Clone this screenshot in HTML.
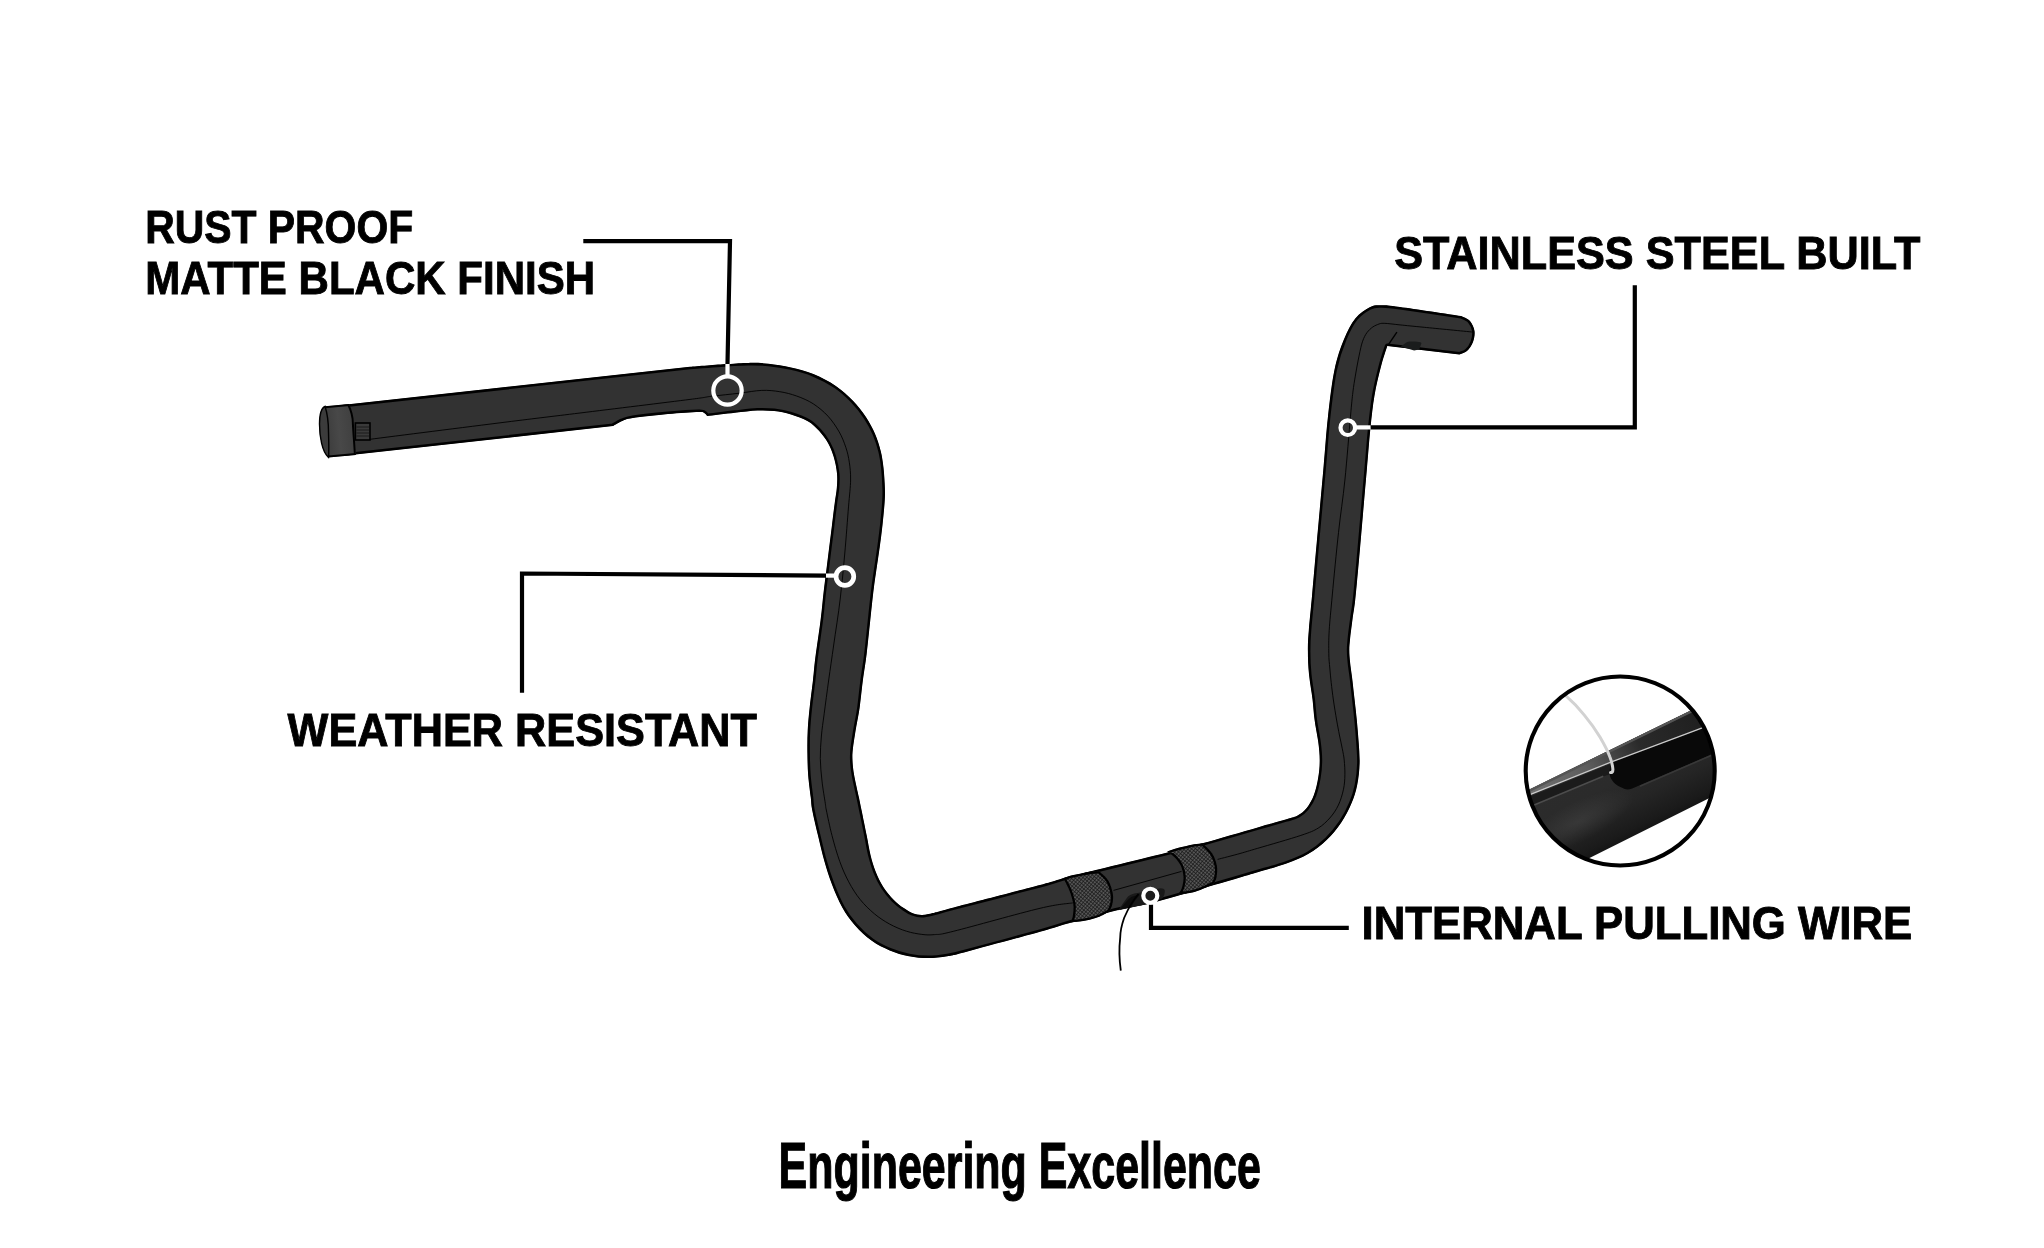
<!DOCTYPE html>
<html><head><meta charset="utf-8"><title>Engineering Excellence</title>
<style>
html,body{margin:0;padding:0;background:#fff;}
svg{display:block}
text{font-family:"Liberation Sans",sans-serif;font-weight:bold;fill:#000}
</style></head>
<body>
<svg width="2044" height="1248" viewBox="0 0 2044 1248">
<defs>
<pattern id="kn" width="2.7" height="2.7" patternUnits="userSpaceOnUse" patternTransform="rotate(40)">
<rect width="2.7" height="2.7" fill="#565656"/><path d="M0 0H2.7M0 0V2.7" stroke="#171717" stroke-width="1.35"/>
</pattern>
<clipPath id="barclip"><path d="M342.0 405.1 L690.0 366.8 L690.0 366.8 C696.2 366.3 717.3 364.6 727.0 364.0 C736.7 363.4 741.4 362.9 748.3 362.9 C755.2 362.8 761.4 362.9 768.5 363.7 C775.6 364.4 783.5 365.7 791.0 367.4 C798.5 369.1 805.9 371.0 813.4 374.1 C820.9 377.2 829.2 381.5 835.8 385.9 C842.3 390.3 847.7 395.3 852.7 400.5 C857.8 405.7 862.4 411.7 866.1 417.3 C869.8 422.9 872.7 428.5 875.1 434.1 C877.5 439.7 879.3 445.4 880.7 451.0 C882.1 456.6 882.8 461.6 883.5 467.8 C884.2 474.0 884.7 482.6 884.9 488.4 C885.1 494.2 885.0 496.3 884.6 502.4 C884.2 508.5 883.3 517.4 882.5 524.9 C881.7 532.4 880.7 539.8 879.7 547.3 C878.7 554.8 877.5 562.3 876.4 569.8 C875.3 577.3 874.3 583.8 873.3 592.2 C872.3 600.6 871.4 609.6 870.3 620.0 C869.2 630.4 867.8 644.3 866.6 654.3 C865.4 664.3 864.1 671.0 862.9 680.0 C861.7 689.0 860.8 699.6 859.6 708.0 C858.4 716.4 856.7 723.6 855.6 730.5 C854.5 737.4 853.3 744.6 852.8 749.6 C852.3 754.6 852.3 756.5 852.5 760.8 C852.7 765.1 853.1 769.2 854.2 775.4 C855.3 781.6 857.8 792.0 859.0 797.8 C860.2 803.6 860.2 803.7 861.5 810.0 C862.8 816.3 865.2 828.1 866.7 835.6 C868.2 843.1 869.0 848.9 870.5 854.9 C872.0 860.9 873.5 866.2 875.6 871.5 C877.7 876.8 880.3 882.2 883.3 886.9 C886.3 891.6 890.2 896.2 893.6 899.7 C897.0 903.2 900.6 905.9 903.8 908.1 C907.0 910.4 909.8 912.1 912.8 913.2 C915.8 914.3 918.6 914.9 921.8 914.9 C925.0 914.9 926.7 914.5 932.0 913.2 C937.3 912.0 935.8 912.1 953.8 907.4 C971.8 902.7 1021.7 889.9 1040.0 885.0 C1058.3 880.1 1059.5 879.2 1063.4 878.0 L1063.4 878.0 C1080.4 873.8 1142.3 858.8 1165.4 853.0 C1188.5 847.2 1186.8 847.6 1202.2 843.3 C1217.6 839.0 1243.7 831.4 1257.7 827.4 C1271.8 823.4 1279.8 821.2 1286.5 819.2 C1293.2 817.2 1294.6 817.1 1298.0 815.2 C1301.4 813.3 1304.0 811.4 1306.7 808.0 C1309.4 804.6 1312.0 800.0 1313.9 795.0 C1315.8 790.0 1317.2 783.5 1318.2 777.7 C1319.2 771.9 1319.7 766.4 1319.7 760.4 C1319.7 754.4 1319.1 748.3 1318.2 741.6 C1317.3 734.9 1315.5 727.1 1314.6 720.0 C1313.6 712.9 1313.4 706.8 1312.5 699.2 C1311.6 691.6 1309.8 682.2 1309.0 674.2 C1308.2 666.2 1307.9 658.6 1307.9 651.3 C1307.9 644.0 1308.0 639.8 1308.8 630.4 C1309.5 621.0 1310.8 609.6 1312.1 595.0 C1313.4 580.4 1314.8 563.7 1316.7 542.9 C1318.6 522.1 1321.4 491.1 1323.3 470.0 C1325.2 448.9 1326.1 432.9 1328.0 416.2 C1329.9 399.5 1331.8 382.5 1334.5 369.7 C1337.2 356.9 1340.5 347.8 1344.0 339.3 C1347.5 330.8 1351.0 323.9 1355.3 318.5 C1359.6 313.1 1365.4 309.4 1369.7 307.2 C1374.0 305.0 1376.0 305.3 1381.0 305.3 C1386.0 305.3 1386.7 305.2 1400.0 307.0 C1413.3 308.8 1450.8 314.5 1461.0 316.0 L1461.0 316.0 C1462.5 316.8 1467.8 318.5 1470.0 321.0 C1472.2 323.5 1474.0 327.5 1474.5 331.0 C1475.0 334.5 1474.2 338.7 1473.0 342.0 C1471.8 345.3 1469.3 348.9 1467.0 351.0 C1464.7 353.1 1460.7 353.9 1459.4 354.5 L1459.4 354.5 L1387.3 346.0 L1387.3 346.0 C1386.2 349.4 1383.1 358.3 1381.0 366.5 C1378.9 374.7 1376.2 385.2 1374.5 395.4 C1372.8 405.5 1371.8 415.0 1370.5 427.4 C1369.2 439.8 1368.1 455.4 1366.8 470.0 C1365.5 484.6 1364.2 499.9 1362.9 514.9 C1361.6 529.9 1360.3 545.6 1359.0 559.8 C1357.7 574.0 1356.3 590.1 1355.2 600.0 C1354.1 609.9 1353.3 612.8 1352.5 619.2 C1351.7 625.6 1350.6 633.4 1350.1 638.5 C1349.6 643.6 1349.3 646.0 1349.3 650.0 C1349.3 654.0 1349.6 658.0 1350.1 662.5 C1350.5 667.0 1351.3 671.3 1352.0 676.9 C1352.7 682.5 1353.4 689.0 1354.2 696.2 C1355.0 703.4 1356.1 712.4 1356.8 720.0 C1357.5 727.6 1358.1 734.4 1358.6 741.6 C1359.1 748.8 1359.8 756.1 1359.6 763.3 C1359.4 770.5 1358.6 778.2 1357.2 784.9 C1355.8 791.6 1354.1 797.4 1351.4 803.6 C1348.8 809.9 1345.4 816.4 1341.3 822.4 C1337.2 828.4 1332.4 834.4 1326.9 839.7 C1321.4 845.0 1314.8 850.1 1308.1 854.1 C1301.4 858.1 1294.9 860.5 1286.5 863.5 C1278.1 866.5 1265.5 869.9 1257.7 872.2 C1250.0 874.5 1247.3 875.3 1240.0 877.4 C1232.7 879.5 1224.5 881.9 1214.0 885.0 C1203.5 888.1 1188.1 892.9 1177.0 896.0 C1165.9 899.1 1157.4 901.6 1147.6 903.9 C1137.8 906.2 1131.0 906.8 1118.3 909.9 C1105.6 913.0 1084.3 918.9 1071.3 922.5 C1058.2 926.1 1057.4 926.9 1040.0 931.8 C1022.6 936.7 982.1 947.6 966.7 951.7 C951.3 955.8 953.8 955.1 947.4 956.2 C941.0 957.3 934.6 958.1 928.2 958.1 C921.8 958.1 915.4 957.5 909.0 956.2 C902.6 954.9 895.9 953.0 889.7 950.4 C883.5 947.8 877.6 945.0 871.8 940.8 C866.0 936.6 860.0 931.0 855.1 925.4 C850.2 919.8 846.1 914.2 842.3 907.4 C838.4 900.6 835.0 892.1 832.0 884.4 C829.0 876.7 826.7 869.4 824.4 861.3 C822.1 853.2 820.0 844.1 818.0 835.6 C816.0 827.1 813.4 816.3 812.2 810.0 C811.0 803.7 811.5 803.6 810.8 797.8 C810.1 792.0 808.8 782.9 808.2 775.4 C807.6 767.9 807.5 760.4 807.4 752.9 C807.3 745.4 807.3 738.0 807.7 730.5 C808.1 723.0 808.7 716.4 809.6 708.0 C810.5 699.6 812.0 688.3 813.0 680.0 C814.0 671.7 814.0 668.0 815.3 658.0 C816.6 648.0 819.2 631.0 820.6 620.0 C822.0 609.0 822.6 600.6 823.6 592.2 C824.6 583.8 825.5 577.3 826.4 569.8 C827.3 562.3 828.3 554.8 829.2 547.3 C830.1 539.8 831.1 532.4 832.0 524.9 C832.9 517.4 834.0 508.5 834.8 502.4 C835.6 496.2 836.4 492.8 836.8 488.0 C837.2 483.2 837.5 478.6 837.0 473.4 C836.5 468.2 835.1 461.7 833.6 456.6 C832.1 451.6 830.4 447.4 828.0 443.1 C825.6 438.8 822.4 434.5 819.0 430.8 C815.6 427.1 812.5 423.9 807.8 421.2 C803.1 418.5 796.6 416.2 791.0 414.5 C785.4 412.8 779.7 411.8 774.1 411.1 C768.5 410.5 763.8 410.3 757.3 410.6 C750.8 410.9 743.2 411.9 734.9 412.8 C726.5 413.7 711.8 415.6 707.2 416.1 L707.2 416.1 C706.7 415.6 705.6 413.7 704.2 413.0 C702.8 412.3 704.9 411.8 698.9 411.9 C692.9 412.0 679.0 412.9 668.0 413.9 C657.0 414.9 640.4 416.7 632.8 417.9 C625.2 419.1 625.6 419.5 622.3 420.9 C619.0 422.2 614.5 425.1 613.0 426.0 L613.0 426.0 L344.0 455.8 Z"/></clipPath>
<clipPath id="k1clip"><path d="M1063.3 878.3 C1064.6 877.8 1068.0 876.4 1071.0 875.6 C1074.0 874.8 1077.9 874.1 1081.2 873.4 C1084.5 872.7 1087.9 872.0 1090.9 871.6 C1093.9 871.2 1098.0 871.3 1099.4 871.3 L1099.4 871.3 C1100.9 872.9 1106.3 877.2 1108.5 880.9 C1110.7 884.6 1112.1 889.8 1112.8 893.6 C1113.5 897.5 1113.0 901.0 1112.4 904.0 C1111.8 907.0 1109.8 910.3 1109.3 911.6 L1109.3 911.6 C1107.8 912.4 1103.3 915.1 1100.0 916.5 C1096.7 917.9 1093.0 918.9 1089.7 919.8 C1086.4 920.6 1083.2 921.2 1080.0 921.6 C1076.8 922.0 1072.3 922.3 1070.8 922.4 L1070.8 922.4 C1071.1 921.4 1072.4 919.0 1072.8 916.1 C1073.2 913.2 1073.8 908.6 1073.4 904.9 C1073.0 901.2 1071.6 896.9 1070.6 893.7 C1069.6 890.6 1068.5 888.6 1067.3 886.0 C1066.1 883.4 1064.0 879.6 1063.3 878.3 Z"/></clipPath>
<clipPath id="k2clip"><path d="M1167.2 851.4 C1168.5 850.9 1172.2 849.5 1175.0 848.7 C1177.8 847.9 1180.8 847.3 1184.0 846.6 C1187.2 845.9 1190.9 844.9 1194.0 844.3 C1197.1 843.7 1201.1 843.4 1202.5 843.2 L1202.5 843.2 C1204.1 844.9 1209.7 849.6 1212.1 853.3 C1214.5 857.0 1216.1 861.7 1216.8 865.6 C1217.6 869.6 1217.1 873.9 1216.6 876.9 C1216.1 879.9 1214.3 882.6 1213.8 883.8 L1213.8 883.8 C1211.7 884.8 1204.9 888.2 1200.9 889.8 C1196.9 891.3 1193.5 892.3 1189.7 893.1 C1185.8 893.9 1179.9 894.5 1177.9 894.8 L1177.9 894.8 C1178.6 893.7 1180.9 891.1 1181.8 888.1 C1182.7 885.1 1183.7 880.6 1183.5 876.9 C1183.3 873.2 1182.2 868.9 1180.7 865.6 C1179.2 862.4 1176.8 859.6 1174.5 857.2 C1172.2 854.8 1168.4 852.3 1167.2 851.4 Z"/></clipPath>
<clipPath id="capclip"><path d="M325 406.3 L349 404.1 C352 410 354 417 353.9 424.1 C354.5 435 355.5 446 355.9 455 L328.5 457.4 C322 452 319.5 436 319.5 424.1 C319.5 415 321 408 325 406.3 Z"/></clipPath>
<clipPath id="insetclip"><circle cx="1620.2" cy="771" r="94.5"/></clipPath>
<linearGradient id="bodyg" gradientUnits="userSpaceOnUse" x1="1600" y1="750" x2="1645" y2="840">
<stop offset="0" stop-color="#2c2c2c"/><stop offset="0.35" stop-color="#2b2b2b"/><stop offset="0.6" stop-color="#252525"/><stop offset="0.85" stop-color="#1a1a1a"/><stop offset="1" stop-color="#0e0e0e"/>
</linearGradient>
<linearGradient id="bandg" gradientUnits="userSpaceOnUse" x1="1530" y1="792" x2="1715" y2="702">
<stop offset="0" stop-color="#707070"/><stop offset="0.3" stop-color="#5e5e5e"/><stop offset="0.46" stop-color="#404040"/><stop offset="0.58" stop-color="#2a2a2a"/><stop offset="1" stop-color="#1c1c1c"/>
</linearGradient>
<linearGradient id="capg" gradientUnits="userSpaceOnUse" x1="325" y1="430" x2="356" y2="427"><stop offset="0" stop-color="#3c3c3c"/><stop offset="0.45" stop-color="#484848"/><stop offset="1" stop-color="#3e3e3e"/></linearGradient>
<radialGradient id="sheen"><stop offset="0" stop-color="#fff" stop-opacity="0.08"/><stop offset="1" stop-color="#fff" stop-opacity="0"/></radialGradient>
</defs>
<rect width="2044" height="1248" fill="#fff"/>
<!--BAR-->
<path d="M342.0 405.1 L690.0 366.8 L690.0 366.8 C696.2 366.3 717.3 364.6 727.0 364.0 C736.7 363.4 741.4 362.9 748.3 362.9 C755.2 362.8 761.4 362.9 768.5 363.7 C775.6 364.4 783.5 365.7 791.0 367.4 C798.5 369.1 805.9 371.0 813.4 374.1 C820.9 377.2 829.2 381.5 835.8 385.9 C842.3 390.3 847.7 395.3 852.7 400.5 C857.8 405.7 862.4 411.7 866.1 417.3 C869.8 422.9 872.7 428.5 875.1 434.1 C877.5 439.7 879.3 445.4 880.7 451.0 C882.1 456.6 882.8 461.6 883.5 467.8 C884.2 474.0 884.7 482.6 884.9 488.4 C885.1 494.2 885.0 496.3 884.6 502.4 C884.2 508.5 883.3 517.4 882.5 524.9 C881.7 532.4 880.7 539.8 879.7 547.3 C878.7 554.8 877.5 562.3 876.4 569.8 C875.3 577.3 874.3 583.8 873.3 592.2 C872.3 600.6 871.4 609.6 870.3 620.0 C869.2 630.4 867.8 644.3 866.6 654.3 C865.4 664.3 864.1 671.0 862.9 680.0 C861.7 689.0 860.8 699.6 859.6 708.0 C858.4 716.4 856.7 723.6 855.6 730.5 C854.5 737.4 853.3 744.6 852.8 749.6 C852.3 754.6 852.3 756.5 852.5 760.8 C852.7 765.1 853.1 769.2 854.2 775.4 C855.3 781.6 857.8 792.0 859.0 797.8 C860.2 803.6 860.2 803.7 861.5 810.0 C862.8 816.3 865.2 828.1 866.7 835.6 C868.2 843.1 869.0 848.9 870.5 854.9 C872.0 860.9 873.5 866.2 875.6 871.5 C877.7 876.8 880.3 882.2 883.3 886.9 C886.3 891.6 890.2 896.2 893.6 899.7 C897.0 903.2 900.6 905.9 903.8 908.1 C907.0 910.4 909.8 912.1 912.8 913.2 C915.8 914.3 918.6 914.9 921.8 914.9 C925.0 914.9 926.7 914.5 932.0 913.2 C937.3 912.0 935.8 912.1 953.8 907.4 C971.8 902.7 1021.7 889.9 1040.0 885.0 C1058.3 880.1 1059.5 879.2 1063.4 878.0 L1063.4 878.0 C1080.4 873.8 1142.3 858.8 1165.4 853.0 C1188.5 847.2 1186.8 847.6 1202.2 843.3 C1217.6 839.0 1243.7 831.4 1257.7 827.4 C1271.8 823.4 1279.8 821.2 1286.5 819.2 C1293.2 817.2 1294.6 817.1 1298.0 815.2 C1301.4 813.3 1304.0 811.4 1306.7 808.0 C1309.4 804.6 1312.0 800.0 1313.9 795.0 C1315.8 790.0 1317.2 783.5 1318.2 777.7 C1319.2 771.9 1319.7 766.4 1319.7 760.4 C1319.7 754.4 1319.1 748.3 1318.2 741.6 C1317.3 734.9 1315.5 727.1 1314.6 720.0 C1313.6 712.9 1313.4 706.8 1312.5 699.2 C1311.6 691.6 1309.8 682.2 1309.0 674.2 C1308.2 666.2 1307.9 658.6 1307.9 651.3 C1307.9 644.0 1308.0 639.8 1308.8 630.4 C1309.5 621.0 1310.8 609.6 1312.1 595.0 C1313.4 580.4 1314.8 563.7 1316.7 542.9 C1318.6 522.1 1321.4 491.1 1323.3 470.0 C1325.2 448.9 1326.1 432.9 1328.0 416.2 C1329.9 399.5 1331.8 382.5 1334.5 369.7 C1337.2 356.9 1340.5 347.8 1344.0 339.3 C1347.5 330.8 1351.0 323.9 1355.3 318.5 C1359.6 313.1 1365.4 309.4 1369.7 307.2 C1374.0 305.0 1376.0 305.3 1381.0 305.3 C1386.0 305.3 1386.7 305.2 1400.0 307.0 C1413.3 308.8 1450.8 314.5 1461.0 316.0 L1461.0 316.0 C1462.5 316.8 1467.8 318.5 1470.0 321.0 C1472.2 323.5 1474.0 327.5 1474.5 331.0 C1475.0 334.5 1474.2 338.7 1473.0 342.0 C1471.8 345.3 1469.3 348.9 1467.0 351.0 C1464.7 353.1 1460.7 353.9 1459.4 354.5 L1459.4 354.5 L1387.3 346.0 L1387.3 346.0 C1386.2 349.4 1383.1 358.3 1381.0 366.5 C1378.9 374.7 1376.2 385.2 1374.5 395.4 C1372.8 405.5 1371.8 415.0 1370.5 427.4 C1369.2 439.8 1368.1 455.4 1366.8 470.0 C1365.5 484.6 1364.2 499.9 1362.9 514.9 C1361.6 529.9 1360.3 545.6 1359.0 559.8 C1357.7 574.0 1356.3 590.1 1355.2 600.0 C1354.1 609.9 1353.3 612.8 1352.5 619.2 C1351.7 625.6 1350.6 633.4 1350.1 638.5 C1349.6 643.6 1349.3 646.0 1349.3 650.0 C1349.3 654.0 1349.6 658.0 1350.1 662.5 C1350.5 667.0 1351.3 671.3 1352.0 676.9 C1352.7 682.5 1353.4 689.0 1354.2 696.2 C1355.0 703.4 1356.1 712.4 1356.8 720.0 C1357.5 727.6 1358.1 734.4 1358.6 741.6 C1359.1 748.8 1359.8 756.1 1359.6 763.3 C1359.4 770.5 1358.6 778.2 1357.2 784.9 C1355.8 791.6 1354.1 797.4 1351.4 803.6 C1348.8 809.9 1345.4 816.4 1341.3 822.4 C1337.2 828.4 1332.4 834.4 1326.9 839.7 C1321.4 845.0 1314.8 850.1 1308.1 854.1 C1301.4 858.1 1294.9 860.5 1286.5 863.5 C1278.1 866.5 1265.5 869.9 1257.7 872.2 C1250.0 874.5 1247.3 875.3 1240.0 877.4 C1232.7 879.5 1224.5 881.9 1214.0 885.0 C1203.5 888.1 1188.1 892.9 1177.0 896.0 C1165.9 899.1 1157.4 901.6 1147.6 903.9 C1137.8 906.2 1131.0 906.8 1118.3 909.9 C1105.6 913.0 1084.3 918.9 1071.3 922.5 C1058.2 926.1 1057.4 926.9 1040.0 931.8 C1022.6 936.7 982.1 947.6 966.7 951.7 C951.3 955.8 953.8 955.1 947.4 956.2 C941.0 957.3 934.6 958.1 928.2 958.1 C921.8 958.1 915.4 957.5 909.0 956.2 C902.6 954.9 895.9 953.0 889.7 950.4 C883.5 947.8 877.6 945.0 871.8 940.8 C866.0 936.6 860.0 931.0 855.1 925.4 C850.2 919.8 846.1 914.2 842.3 907.4 C838.4 900.6 835.0 892.1 832.0 884.4 C829.0 876.7 826.7 869.4 824.4 861.3 C822.1 853.2 820.0 844.1 818.0 835.6 C816.0 827.1 813.4 816.3 812.2 810.0 C811.0 803.7 811.5 803.6 810.8 797.8 C810.1 792.0 808.8 782.9 808.2 775.4 C807.6 767.9 807.5 760.4 807.4 752.9 C807.3 745.4 807.3 738.0 807.7 730.5 C808.1 723.0 808.7 716.4 809.6 708.0 C810.5 699.6 812.0 688.3 813.0 680.0 C814.0 671.7 814.0 668.0 815.3 658.0 C816.6 648.0 819.2 631.0 820.6 620.0 C822.0 609.0 822.6 600.6 823.6 592.2 C824.6 583.8 825.5 577.3 826.4 569.8 C827.3 562.3 828.3 554.8 829.2 547.3 C830.1 539.8 831.1 532.4 832.0 524.9 C832.9 517.4 834.0 508.5 834.8 502.4 C835.6 496.2 836.4 492.8 836.8 488.0 C837.2 483.2 837.5 478.6 837.0 473.4 C836.5 468.2 835.1 461.7 833.6 456.6 C832.1 451.6 830.4 447.4 828.0 443.1 C825.6 438.8 822.4 434.5 819.0 430.8 C815.6 427.1 812.5 423.9 807.8 421.2 C803.1 418.5 796.6 416.2 791.0 414.5 C785.4 412.8 779.7 411.8 774.1 411.1 C768.5 410.5 763.8 410.3 757.3 410.6 C750.8 410.9 743.2 411.9 734.9 412.8 C726.5 413.7 711.8 415.6 707.2 416.1 L707.2 416.1 C706.7 415.6 705.6 413.7 704.2 413.0 C702.8 412.3 704.9 411.8 698.9 411.9 C692.9 412.0 679.0 412.9 668.0 413.9 C657.0 414.9 640.4 416.7 632.8 417.9 C625.2 419.1 625.6 419.5 622.3 420.9 C619.0 422.2 614.5 425.1 613.0 426.0 L613.0 426.0 L344.0 455.8 Z" fill="#323232" stroke="#000" stroke-width="5" stroke-linejoin="round" clip-path="url(#barclip)"/>
<path d="M370.0 439.3 C392.5 436.4 470.0 426.6 505.0 422.2 C540.0 417.8 549.2 416.8 580.0 413.0 C610.8 409.2 668.1 402.2 690.0 399.4 C711.9 396.6 703.1 397.3 711.3 396.3 C719.5 395.3 731.0 394.2 739.4 393.2 C747.8 392.2 755.1 390.6 761.8 390.4 C768.5 390.1 774.0 390.8 779.8 391.7 C785.6 392.6 791.0 394.0 796.6 396.0 C802.2 398.0 808.2 400.5 813.4 403.9 C818.6 407.3 823.7 411.5 828.0 416.2 C832.3 420.9 836.2 426.7 839.2 431.9 C842.2 437.1 844.2 442.6 845.9 447.6 C847.6 452.7 848.5 456.8 849.3 462.2 C850.1 467.6 850.7 472.6 850.6 480.0 C850.5 487.4 849.5 494.7 848.5 506.9 C847.5 519.1 846.2 537.6 844.8 553.0 C843.4 568.4 842.1 583.7 840.2 599.0 C838.4 614.3 835.6 631.5 833.7 645.0 C831.8 658.5 830.3 668.5 828.7 680.0 C827.1 691.5 825.4 704.4 824.2 713.7 C823.0 723.0 822.0 728.5 821.4 736.0 C820.8 743.5 820.2 751.0 820.3 758.5 C820.4 766.0 821.2 773.5 822.0 781.0 C822.8 788.5 824.6 798.6 825.3 803.4 C826.0 808.2 825.2 804.6 826.3 810.0 C827.4 815.4 829.8 827.1 832.0 835.6 C834.2 844.1 836.9 853.6 839.7 861.3 C842.5 869.0 845.3 875.4 848.7 881.8 C852.1 888.2 856.0 894.4 860.3 899.7 C864.6 905.0 869.5 909.7 874.4 913.8 C879.3 917.9 884.4 921.2 889.7 924.1 C895.0 927.0 901.0 929.5 906.4 931.2 C911.8 932.9 917.1 933.8 921.8 934.4 C926.5 935.0 929.3 935.1 934.6 934.6 C939.9 934.1 936.2 935.6 953.8 931.2 C971.4 926.8 1020.2 913.0 1040.0 908.3 C1059.8 903.6 1067.3 903.8 1072.8 902.9 M1113.5 890.4 L1181.5 871.4 M1217.6 859.4 C1221.3 858.4 1233.3 855.4 1240.0 853.5 C1246.7 851.6 1247.5 851.3 1257.7 848.3 C1267.9 845.3 1290.8 838.8 1300.9 835.4 C1311.0 832.0 1313.4 831.0 1318.2 828.1 C1323.0 825.2 1326.4 821.8 1329.8 818.0 C1333.2 814.2 1336.1 809.9 1338.4 805.1 C1340.7 800.3 1342.4 794.2 1343.5 789.2 C1344.6 784.2 1344.8 779.7 1344.9 774.8 C1345.0 769.9 1344.6 764.3 1344.2 760.0 C1343.8 755.7 1343.1 753.0 1342.3 748.8 C1341.5 744.6 1340.4 739.8 1339.4 735.0 C1338.5 730.2 1337.6 725.8 1336.6 720.0 C1335.6 714.2 1334.3 706.2 1333.4 700.0 C1332.5 693.8 1331.8 687.8 1331.2 682.5 C1330.6 677.2 1330.2 672.9 1329.8 668.0 C1329.4 663.1 1328.8 659.6 1328.8 653.3 C1328.7 647.0 1328.6 640.1 1329.2 630.4 C1329.8 620.7 1330.8 611.3 1332.3 595.0 C1333.8 578.7 1336.4 551.7 1338.5 532.5 C1340.6 513.3 1342.9 499.4 1344.9 480.0 C1346.9 460.6 1349.2 430.8 1350.5 416.2 C1351.8 401.6 1352.1 398.8 1352.9 392.1 C1353.7 385.4 1354.4 381.4 1355.3 376.1 C1356.2 370.8 1357.1 365.4 1358.2 360.1 C1359.3 354.8 1360.5 348.4 1361.7 344.1 C1363.0 339.8 1364.1 337.2 1365.7 334.5 C1367.3 331.8 1369.3 329.8 1371.3 328.1 C1373.3 326.4 1375.6 325.3 1377.7 324.5 C1379.8 323.7 1380.4 323.2 1384.1 323.3 C1387.8 323.4 1393.3 324.2 1400.0 324.9 C1406.7 325.6 1412.0 326.1 1424.2 327.3 C1436.4 328.5 1464.9 331.3 1473.1 332.1 " fill="none" stroke="#000" stroke-width="0.9"/>
<!--right grip details-->
<path d="M1396.9 332.2 L1388.6 344.3" stroke="#000" stroke-width="1.4" fill="none"/>
<path d="M1400.7 346.6 L1407.1 341.9 C1410 341.3 1414 341.4 1417.25 341.75 C1420 342 1421.5 342.5 1421.4 343.5 L1419.2 349.4 L1414.1 350.6 Z" fill="#1a1c1c"/>
<!--left cap-->
<path d="M325 406.3 L349 404.1 C352 410 354 417 353.9 424.1 C354.5 435 355.5 446 355.9 455 L328.5 457.4 C322 452 319.5 436 319.5 424.1 C319.5 415 321 408 325 406.3 Z" fill="url(#capg)" stroke="#000" stroke-width="4" stroke-linejoin="round" clip-path="url(#capclip)"/>
<path d="M325 406.3 C327.5 414 328.5 424 328.5 432 C328.8 442 329 452 328.5 457.4 C322 452 319.5 436 319.5 424.1 C319.5 415 321 408 325 406.3 Z" fill="#3b3b3b" stroke="#000" stroke-width="1.4"/>
<rect x="355.4" y="423" width="14.6" height="17" fill="#3a3a3a" stroke="#000" stroke-width="1.6"/>
<path d="M356.5 427h12.5M356.5 430h12.5M356.5 433h12.5M356.5 436h12.5" stroke="#1a1a1a" stroke-width="1"/>
<!--knurls-->
<path d="M1063.3 878.3 C1064.6 877.8 1068.0 876.4 1071.0 875.6 C1074.0 874.8 1077.9 874.1 1081.2 873.4 C1084.5 872.7 1087.9 872.0 1090.9 871.6 C1093.9 871.2 1098.0 871.3 1099.4 871.3 L1099.4 871.3 C1100.9 872.9 1106.3 877.2 1108.5 880.9 C1110.7 884.6 1112.1 889.8 1112.8 893.6 C1113.5 897.5 1113.0 901.0 1112.4 904.0 C1111.8 907.0 1109.8 910.3 1109.3 911.6 L1109.3 911.6 C1107.8 912.4 1103.3 915.1 1100.0 916.5 C1096.7 917.9 1093.0 918.9 1089.7 919.8 C1086.4 920.6 1083.2 921.2 1080.0 921.6 C1076.8 922.0 1072.3 922.3 1070.8 922.4 L1070.8 922.4 C1071.1 921.4 1072.4 919.0 1072.8 916.1 C1073.2 913.2 1073.8 908.6 1073.4 904.9 C1073.0 901.2 1071.6 896.9 1070.6 893.7 C1069.6 890.6 1068.5 888.6 1067.3 886.0 C1066.1 883.4 1064.0 879.6 1063.3 878.3 Z" fill="url(#kn)" stroke="#000" stroke-width="4.6" stroke-linejoin="round" clip-path="url(#k1clip)"/>
<path d="M1167.2 851.4 C1168.5 850.9 1172.2 849.5 1175.0 848.7 C1177.8 847.9 1180.8 847.3 1184.0 846.6 C1187.2 845.9 1190.9 844.9 1194.0 844.3 C1197.1 843.7 1201.1 843.4 1202.5 843.2 L1202.5 843.2 C1204.1 844.9 1209.7 849.6 1212.1 853.3 C1214.5 857.0 1216.1 861.7 1216.8 865.6 C1217.6 869.6 1217.1 873.9 1216.6 876.9 C1216.1 879.9 1214.3 882.6 1213.8 883.8 L1213.8 883.8 C1211.7 884.8 1204.9 888.2 1200.9 889.8 C1196.9 891.3 1193.5 892.3 1189.7 893.1 C1185.8 893.9 1179.9 894.5 1177.9 894.8 L1177.9 894.8 C1178.6 893.7 1180.9 891.1 1181.8 888.1 C1182.7 885.1 1183.7 880.6 1183.5 876.9 C1183.3 873.2 1182.2 868.9 1180.7 865.6 C1179.2 862.4 1176.8 859.6 1174.5 857.2 C1172.2 854.8 1168.4 852.3 1167.2 851.4 Z" fill="url(#kn)" stroke="#000" stroke-width="4.6" stroke-linejoin="round" clip-path="url(#k2clip)"/>
<!--slot and wire-->
<path d="M1118.3 910.3 C1122 905 1125 900 1128 896.5 C1131 894.2 1134 893.4 1137.8 893.1 C1146 891.5 1154 889 1160.4 888.2 C1163.5 888.2 1165 889.5 1164.8 891.2 C1164.8 894 1164 896 1162.3 898.4 L1147.6 903.9 Z" fill="#191919"/>
<path d="M1120 909.6 C1124 904 1128 899 1131.5 896.8 L1140 894.6 C1136 899 1133 903 1131.5 907.2 Z" fill="#0c0c0c"/>
<path d="M1138.5 894 C1134 899 1128 909 1124.1 918 C1121 927 1120.2 932 1120.2 937.6 C1119 948 1119.3 960 1120.8 970.6" fill="none" stroke="#000" stroke-width="1.8"/>
<!--leaders-->
<g fill="none" stroke-width="4.2">
<path d="M583.3 241.2 L730 241.2 L727.5 364" stroke="#000" stroke-linejoin="miter"/>
<path d="M727.5 364 L727.5 376" stroke="#fff"/>
<circle cx="727.5" cy="390.5" r="14.2" stroke="#fff"/>
<path d="M522 692.7 L522 573.5 L826 575.6" stroke="#000"/>
<path d="M826 575.6 L836 575.6" stroke="#fff"/>
<circle cx="844.9" cy="576.5" r="8.85" stroke="#fff" stroke-width="4.7"/>
<path d="M1634.8 285.3 L1634.8 427.4 L1370.5 427.4" stroke="#000"/>
<path d="M1370.5 427.4 L1356 427.4" stroke="#fff"/>
<circle cx="1347.8" cy="427.7" r="7.3" stroke="#fff"/>
<path d="M1151 904.5 L1151 927.9 L1348.8 927.9" stroke="#000"/>
<circle cx="1150.3" cy="895.75" r="7" stroke="#fff" fill="#1c1c1c"/>
</g>
<!--inset-->
<g clip-path="url(#insetclip)">
<rect x="1520" y="670" width="200" height="200" fill="#fff"/>
<path d="M1500 803.9 L1740 686.4 L1740 782.75 L1500 902.75 Z" fill="url(#bodyg)"/>
<ellipse cx="1578" cy="822" rx="62" ry="20" transform="rotate(-26.5 1578 822)" fill="url(#sheen)"/>
<path d="M1500 803.9 L1740 686.4 L1740 713.5 L1696.3 730.1 L1612.9 761.3 L1531.2 794.2 L1500 806.7 Z" fill="url(#bandg)"/>
<path d="M1500 805.1 L1740 687.6" stroke="#555" stroke-width="2.4" fill="none"/>
<path d="M1500 810 L1531.2 796 L1612.9 763 L1609.7 774.2 L1603.3 776.5 L1536 804.5 L1500 820 Z" fill="#1b1b1b"/>
<path d="M1500 820 L1536 804.3 L1603.3 776.3" stroke="#4c4c4c" stroke-width="1.6" fill="none"/>
<path d="M1612.9 761.6 L1696.3 730.4 L1740 713.8 L1740 742.2 L1712.3 754.1 L1632.2 788.6 C1628 790 1625 789.6 1622.6 788 C1615 785 1610.5 780 1609.7 774.2 C1609.3 769 1610.5 765 1612.9 761.6 Z" fill="#090909"/>
<path d="M1640 786.2 L1712.3 755 L1740 743.2" stroke="#383838" stroke-width="1.6" fill="none"/>
<path d="M1500 806.7 L1531.2 794.2 L1612.9 761.3 L1696.3 730.1 L1740 713.5" stroke="#c9c9c9" stroke-width="1.3" fill="none"/>
<path d="M1566.5 696.4 C1573 702 1579 708.5 1584.1 714.9 C1590 722 1595.5 729.5 1600.1 737.3 C1604 744 1607.3 750 1609.7 756.5 C1611.5 761 1612.6 765 1612.9 769.4 C1612.9 771.5 1612 772.6 1610.5 772.6" stroke="#d2d2d2" stroke-width="3" fill="none" stroke-linecap="round"/>
</g>
<circle cx="1620.2" cy="771" r="94.5" fill="none" stroke="#000" stroke-width="4.1"/>
<!--LABELS-->
<g style="mix-blend-mode:multiply">
<text x="145.2" y="242.6" font-size="47" textLength="268" lengthAdjust="spacingAndGlyphs" stroke="#000" stroke-width="0.9" opacity="0.999">RUST PROOF</text>
<text x="145.2" y="294" font-size="47" textLength="450" lengthAdjust="spacingAndGlyphs" stroke="#000" stroke-width="0.9" opacity="0.999">MATTE BLACK FINISH</text>
<text x="287.6" y="745.6" font-size="47" textLength="469.4" lengthAdjust="spacingAndGlyphs" stroke="#000" stroke-width="0.9" opacity="0.999">WEATHER RESISTANT</text>
<text x="1394.2" y="268.9" font-size="47" textLength="526.3" lengthAdjust="spacingAndGlyphs" stroke="#000" stroke-width="0.9" opacity="0.999">STAINLESS STEEL BUILT</text>
<text x="1361.6" y="938.7" font-size="47" textLength="550.6" lengthAdjust="spacingAndGlyphs" stroke="#000" stroke-width="0.9" opacity="0.999">INTERNAL PULLING WIRE</text>
</g>
<text x="778.6" y="1188.4" font-size="65" textLength="482.3" lengthAdjust="spacingAndGlyphs" stroke="#000" stroke-width="1.2" opacity="0.999">Engineering Excellence</text>
</svg>
</body></html>
